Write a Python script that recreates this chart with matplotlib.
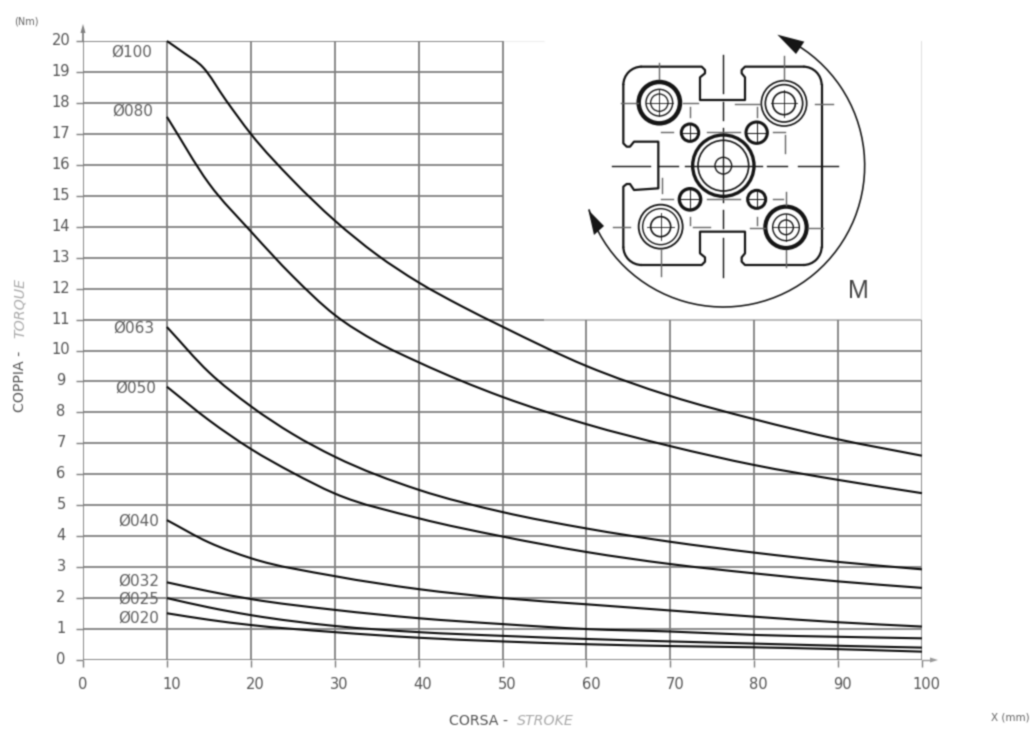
import numpy as np
import matplotlib
matplotlib.use("Agg")
import matplotlib.pyplot as plt
from matplotlib.patches import Circle, Arc, Polygon, PathPatch
from matplotlib.path import Path
from matplotlib.transforms import ScaledTranslation

x_std = [10, 15, 20, 25, 30, 40, 50, 60, 70, 80, 90, 100]
x_100 = [10, 12, 14.3, 17, 20, 25, 30, 35, 40, 45, 50, 60, 70, 80, 90, 100]
y_100 = [20.0, 19.62, 19.15, 18.1, 17.0, 15.5, 14.2, 13.1, 12.2, 11.45, 10.77, 9.5, 8.53, 7.78, 7.13, 6.6]
x_080 = [10, 15, 20, 25, 30, 35, 40, 50, 60, 70, 80, 90, 100]
y_080 = [17.55, 15.4, 13.85, 12.4, 11.15, 10.28, 9.62, 8.5, 7.62, 6.91, 6.3, 5.82, 5.39]
y_063 = [10.76, 9.3, 8.2, 7.3, 6.57, 5.5, 4.78, 4.25, 3.82, 3.47, 3.17, 2.93]
y_050 = [8.83, 7.75, 6.82, 6.05, 5.38, 4.58, 3.99, 3.49, 3.1, 2.8, 2.54, 2.33]
x_small = [10, 15, 20, 30, 40, 50, 60, 70, 80, 90, 100]
y_040 = [4.52, 3.8, 3.29, 2.71, 2.29, 2.0, 1.8, 1.6, 1.4, 1.22, 1.08]
y_032 = [2.51, 2.22, 1.97, 1.62, 1.35, 1.16, 1.0, 0.92, 0.81, 0.75, 0.7]
y_025 = [2.0, 1.7, 1.45, 1.1, 0.9, 0.78, 0.68, 0.6, 0.53, 0.46, 0.4]
y_020 = [1.51, 1.3, 1.13, 0.9, 0.72, 0.6, 0.51, 0.45, 0.41, 0.35, 0.27]
bore_labels = ["Ø100", "Ø080", "Ø063", "Ø050", "Ø040", "Ø032", "Ø025", "Ø020"]
x_ticks = list(range(0, 101, 10))
y_ticks = list(range(0, 21))

W, H = 1033, 731
GRID = "#808080"
TXT = "#555555"
fig = plt.figure(figsize=(W / 100, H / 100), dpi=100, facecolor="white")
ax = fig.add_axes([83 / W, (H - 660) / H, 839 / W, 619 / H])
ax.set_xlim(0, 100)
ax.set_ylim(0, 20)
for s in ax.spines.values():
    s.set_visible(False)
ax.set_facecolor("none")

glw = 1.3
ax.hlines([v for v in y_ticks if v >= 12], 0, 50, color=GRID, lw=glw, zorder=1)
ax.hlines([v for v in y_ticks if v <= 10], 0, 100, color=GRID, lw=glw, zorder=1)
ax.hlines(11, 0, 55, color=GRID, lw=glw, zorder=1)
ax.hlines(11, 55, 100, color="#b5b5b5", lw=glw, zorder=1)
ax.hlines(20, 50, 55, color="#eeeeee", lw=0.8, zorder=1)
ax.vlines([v for v in x_ticks if v <= 50], 0, 20, color=GRID, lw=glw, zorder=1)
ax.vlines([v for v in x_ticks if v > 50], 0, 11, color=GRID, lw=glw, zorder=1)
ax.vlines(100, 11, 20, color="#dddddd", lw=1.3, zorder=1)


def smooth_path(xs, ys):
    """Cubic Bezier path passing through the read points."""
    xs = np.asarray(xs, float)
    ys = np.asarray(ys, float)
    m = np.gradient(ys, xs)
    verts = [(xs[0], ys[0])]
    codes = [Path.MOVETO]
    for i in range(len(xs) - 1):
        d = (xs[i + 1] - xs[i]) / 3
        verts += [(xs[i] + d, ys[i] + m[i] * d), (xs[i + 1] - d, ys[i + 1] - m[i + 1] * d), (xs[i + 1], ys[i + 1])]
        codes += [Path.CURVE4] * 3
    return Path(verts, codes)


series = [(x_100, y_100), (x_080, y_080), (x_std, y_063), (x_std, y_050),
          (x_small, y_040), (x_small, y_032), (x_small, y_025), (x_small, y_020)]
for xs, ys in series:
    ax.add_patch(PathPatch(smooth_path(xs, ys), fill=False, ec="#0a0a0a", lw=1.5, zorder=3, clip_on=False))

ax.set_xticks(x_ticks)
ax.set_yticks(y_ticks)
ax.tick_params(axis="both", length=5, width=1.0, color=GRID, labelcolor=TXT, labelsize=10.5)
ax.tick_params(axis="x", pad=7)
ax.tick_params(axis="y", pad=0)
shift = ScaledTranslation(4.5 / 100, 0, fig.dpi_scale_trans)
for t, v in zip(ax.get_xticklabels(), x_ticks):
    if v:
        t.set_transform(t.get_transform() + shift)
for t in ax.get_yticklabels():
    t.set_horizontalalignment("center")
    t.set_transform(t.get_transform() + ScaledTranslation(-15 / 100, 2 / 100, fig.dpi_scale_trans))

# overlay in pixel coordinates
p = fig.add_axes([0, 0, 1, 1], facecolor="none")
p.set_xlim(0, W)
p.set_ylim(H, 0)
p.axis("off")

label_pos = [(152, 52), (153, 111), (154, 328), (156, 388), (159, 521), (159, 581), (159, 599), (159, 618)]
for name, (lx, ly) in zip(bore_labels, label_pos):
    p.text(lx, ly, name, ha="right", va="center", fontsize=11, color="#606060")

# axis arrows
p.add_patch(Polygon([(83, 24), (80.5, 33), (85.5, 33)], color=GRID, lw=0))
p.plot([83, 83], [33, 41], color=GRID, lw=1.3)
p.add_patch(Polygon([(938, 660), (930, 657.5), (930, 662.5)], color="#999999", lw=0))
p.plot([922, 930], [660, 660], color="#999999", lw=1.0)

p.text(26, 22, "(Nm)", ha="center", va="center", fontsize=7, color="#666666")
p.text(1010, 718, "X (mm)", ha="center", va="center", fontsize=7.5, color="#666666")
p.text(479, 721, "CORSA -", ha="center", va="center", fontsize=10.2, color="#555555")
p.text(545, 721, "STROKE", ha="center", va="center", fontsize=10.2, color="#aaaaaa", style="italic")
p.text(20, 381, "COPPIA -", ha="center", va="center", rotation=90, fontsize=10.2, color="#555555")
p.text(20, 308, "TORQUE", ha="center", va="center", rotation=90, fontsize=10.2, color="#aaaaaa", style="italic")

# ---- profile drawing (reference zoom coordinates -> pixels) ----
def X(z): return 570 + z / 3
def Y(z): return 20 + z / 3
def Zp(pts): return [(X(a), Y(b)) for a, b in pts]
K = "#151515"

def line(pts, lw=1.3, c=K, **kw):
    q = Zp(pts)
    p.plot([a for a, _ in q], [b for _, b in q], color=c, lw=lw, solid_joinstyle="round", **kw)

R = 55
def corner(cx, cy, t1):
    p.add_patch(Arc((X(cx), Y(cy)), 2 * R / 3, 2 * R / 3, theta1=t1, theta2=t1 + 90, color=K, lw=1.6))

line([(215, 140), (395, 140), (405, 150), (405, 160), (390, 172), (390, 240), (525, 240), (525, 172), (515, 160), (515, 150), (525, 140), (700, 140)], 1.6)
line([(215, 735), (395, 735), (405, 725), (405, 712), (390, 700), (390, 635), (525, 635), (525, 700), (515, 712), (515, 725), (525, 735), (700, 735)], 1.6)
line([(160, 195), (160, 370), (170, 380), (180, 380), (192, 365), (265, 365), (265, 505), (192, 510), (180, 492), (170, 492), (160, 500), (160, 680)], 1.6)
line([(755, 195), (755, 680)], 1.6)
corner(215, 195, 180)
corner(700, 195, 270)
corner(215, 680, 90)
corner(700, 680, 0)

def circ(cx, cy, r, lw=1.0, c=K):
    p.add_patch(Circle((X(cx), Y(cy)), r / 3, fill=False, ec=c, lw=lw))

for cx, cy, rings in [(268, 248, [(62, 3.2), (40, 1.0), (26, 0.9)]),
                      (642, 250, [(68, 1.2), (56, 1.2), (34, 1.2)]),
                      (272, 620, [(66, 1.3), (54, 1.0), (30, 1.2)]),
                      (648, 622, [(62, 3.0), (40, 1.0), (22, 1.0)])]:
    for r, lw in rings:
        circ(cx, cy, r, lw)
for cx, cy, r, lw in [(360, 338, 26, 2.2), (560, 338, 32, 2.2), (360, 538, 32, 2.4), (560, 538, 27, 2.2)]:
    circ(cx, cy, r, lw)
    line([(cx - r, cy), (cx + r, cy)], 0.7)
    line([(cx, cy - r), (cx, cy + r)], 0.7)
circ(460, 437, 92, 2.4)
circ(460, 437, 76, 1.2)
circ(460, 437, 25, 1.0)

# centre lines
for seg in [[(125, 437), (240, 437)], [(265, 437), (325, 437)], [(345, 437), (575, 437)],
            [(590, 437), (650, 437)], [(685, 437), (805, 437)],
            [(460, 105), (460, 220)], [(460, 245), (460, 300)], [(460, 325), (460, 545)],
            [(460, 570), (460, 625)], [(460, 655), (460, 772)]]:
    line(seg, 1.0)
for cx, cy in [(268, 248), (642, 250), (272, 620), (648, 622)]:
    line([(cx - 40, cy), (cx + 40, cy)], 0.6)
    line([(cx, cy - 40), (cx, cy + 40)], 0.6)
G2 = "#666666"
for seg in [[(268, 130), (268, 178)], [(642, 108), (642, 180)], [(272, 690), (272, 768)], [(648, 515), (648, 555)],
            [(648, 690), (648, 740)], [(152, 248), (205, 248)], [(340, 248), (385, 248)],
            [(495, 252), (570, 252)], [(735, 252), (790, 252)], [(130, 620), (180, 620)],
            [(370, 620), (420, 620)], [(540, 625), (585, 625)], [(715, 625), (760, 625)],
            [(360, 262), (360, 290)], [(560, 262), (560, 290)], [(360, 590), (360, 615)], [(560, 590), (560, 615)],
            [(272, 335), (310, 335)], [(410, 335), (510, 335)], [(610, 335), (645, 335)], [(645, 345), (645, 400)],
            [(272, 538), (310, 538)], [(410, 538), (510, 538)], [(610, 538), (640, 538)], [(275, 475), (275, 520)]]:
    line(seg, 1.0, G2)

# moment arc
p.add_patch(Arc((X(460), Y(437)), 2 * 424 / 3, 2 * 424 / 3, theta1=-62, theta2=162, color=K, lw=1.15))
p.add_patch(Polygon(Zp([(622, 44), (703, 65), (678, 102)]), color=K, lw=0))
p.add_patch(Polygon(Zp([(55, 570), (102, 618), (72, 645)]), color=K, lw=0))
p.text(858, 291, "M", ha="center", va="center", fontsize=18, color="#444444", family="Liberation Sans")

fig.savefig("out.png", dpi=100, facecolor="white")

# the reference is a soft, slightly blurred scan: soften the saved picture the same way
img = plt.imread("out.png")[:, :, :3]
kernel = np.array([0.2, 0.6, 0.2])
for axis in (0, 1):
    img = np.apply_along_axis(lambda v: np.convolve(np.pad(v, 1, mode="edge"), kernel, mode="valid"), axis, img)
plt.imsave("out.png", np.clip(img, 0, 1))
